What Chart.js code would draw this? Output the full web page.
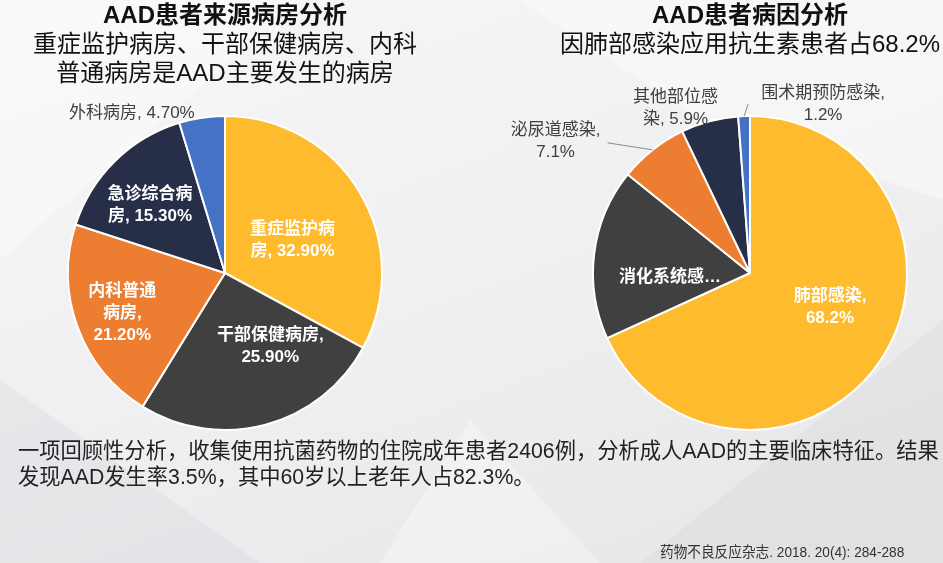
<!DOCTYPE html>
<html>
<head>
<meta charset="utf-8">
<script src="https://cdn.jsdelivr.net/npm/chart.js@4"></script>
<style>
  html, body { margin: 0; padding: 0; }
  body {
    width: 943px; height: 563px; overflow: hidden; position: relative;
    background: linear-gradient(160deg, #f7f7f8 0%, #efeff1 55%, #e6e6e9 100%);
    font-family: "Liberation Sans", "Noto Sans CJK SC", sans-serif;
  }
  .box { position: absolute; }
  #bg { left: 0; top: 0; }
  .title { text-align: center; color: #111; font-size: 24px; line-height: 29px; }
  .title b { font-weight: bold; }
  #leftTitle { left: 0; width: 450px; top: 0; }
  #rightTitle { left: 555px; width: 390px; top: 0; }
  #note { left: 18px; top: 438px; font-size: 22px; line-height: 26px; color: #222;
          white-space: nowrap; transform: scaleX(0.967); transform-origin: left top; }
  #cite { left: 660px; top: 540px; font-size: 15px; color: #333; white-space: nowrap;
          transform: scaleX(0.91); transform-origin: left top; }
  #leftWrap { left: 0; top: 0; width: 450px; height: 546px; }
  #rightWrap { left: 500px; top: 0; width: 500px; height: 546px; }
</style>
</head>
<body>
<svg class="box" id="bg" width="943" height="563">
  <polygon points="0,0 300,0 0,260" fill="#ffffff" opacity="0.35"/>
  <polygon points="520,0 943,0 943,200 700,120" fill="#ffffff" opacity="0.4"/>
  <polygon points="0,563 0,380 260,563" fill="#d8d8dc" opacity="0.35"/>
  <polygon points="943,563 943,320 640,563" fill="#d6d6da" opacity="0.35"/>
  <polygon points="380,563 470,420 600,563" fill="#ffffff" opacity="0.3"/>
</svg>
<div class="box" id="leftWrap"><canvas id="leftChart"></canvas></div>
<div class="box" id="rightWrap"><canvas id="rightChart"></canvas></div>

<div class="box title" id="leftTitle"><b>AAD患者来源病房分析</b><br>重症监护病房、干部保健病房、内科<br>普通病房是AAD主要发生的病房</div>
<div class="box title" id="rightTitle"><b>AAD患者病因分析</b><br>因肺部感染应用抗生素患者占68.2%</div>
<div class="box" id="note">一项回顾性分析，收集使用抗菌药物的住院成年患者2406例，分析成人AAD的主要临床特征。结果<br>发现AAD发生率3.5%，其中60岁以上老年人占82.3%。</div>
<div class="box" id="cite">药物不良反应杂志. 2018. 20(4): 284-288</div>

<script>
// Ward distribution (left pie)
const wardLabels = ['重症监护病房', '干部保健病房', '内科普通病房', '急诊综合病房', '外科病房'];
const wardValues = [32.9, 25.9, 21.2, 15.3, 4.7];
const wardText = [
    ['重症监护病', '房, 32.90%'],
    ['干部保健病房,', '25.90%'],
    ['内科普通', '病房,', '21.20%'],
    ['急诊综合病', '房, 15.30%'],
    ['外科病房, 4.70%']
];

// Cause distribution (right pie)
const causeLabels = ['肺部感染', '消化系统感染', '泌尿道感染', '其他部位感染', '围术期预防感染'];
const causeValues = [68.2, 17.6, 7.1, 5.9, 1.2];
const causeText = [
    ['肺部感染,', '68.2%'],
    ['消化系统感…'],
    ['泌尿道感染,', '7.1%'],
    ['其他部位感', '染, 5.9%'],
    ['围术期预防感染,', '1.2%']
];

const sliceColors = ['#FDBB2D', '#404040', '#ED7D31', '#262E48', '#4472C4'];

// label placement: f = fraction of radius along mid angle, dx/dy = nudge, out = outside label
const wardPlace = [
    { f: 0.5, dx: 0, dy: 7 },
    { f: 0.5, dx: 25, dy: -3 },
    { f: 0.5, dx: -29, dy: 13 },
    { f: 0.5, dx: -20, dy: -12 },
    { f: 1, dx: -70, dy: -4, out: true }
];
const causePlace = [
    { f: 0.5, dx: 14, dy: -8 },
    { f: 0.5, dx: -2, dy: 14 },
    { f: 1, dx: -97, dy: -9, out: true, line: [-45, -7] },
    { f: 1, dx: -34, dy: -13, out: true },
    { f: 1, dx: 79, dy: -12, out: true, line: [4, -12] }
];

const sliceLabels = {
    id: 'sliceLabels',
    afterDatasetsDraw(chart, args, opts) {
        const ctx = chart.ctx;
        const arcs = chart.getDatasetMeta(0).data;
        ctx.save();
        arcs.forEach((arc, i) => {
            const p = opts.place[i];
            const mid = (arc.startAngle + arc.endAngle) / 2;
            const r = arc.outerRadius;
            const ex = arc.x + Math.cos(mid) * r;
            const ey = arc.y + Math.sin(mid) * r;
            if (p.line) {
                ctx.strokeStyle = '#8c8c8c';
                ctx.lineWidth = 1;
                ctx.beginPath();
                ctx.moveTo(ex, ey);
                ctx.lineTo(ex + p.line[0], ey + p.line[1]);
                ctx.stroke();
            }
            const x = arc.x + Math.cos(mid) * r * p.f + p.dx;
            const y = arc.y + Math.sin(mid) * r * p.f + p.dy;
            const lines = opts.text[i];
            ctx.font = (p.out ? '' : 'bold ') + '17px "Liberation Sans", "Noto Sans CJK SC", sans-serif';
            ctx.fillStyle = p.out ? '#404040' : '#ffffff';
            ctx.textAlign = 'center';
            ctx.textBaseline = 'middle';
            const lh = 22;
            const top = y - (lines.length - 1) * lh / 2;
            lines.forEach((t, k) => ctx.fillText(t, x, top + k * lh));
        });
        ctx.restore();
    }
};

function makePie(id, labels, values, text, place) {
    new Chart(document.getElementById(id).getContext('2d'), {
        type: 'pie',
        data: {
            labels: labels,
            datasets: [{
                data: values,
                backgroundColor: sliceColors,
                borderColor: '#ffffff',
                borderWidth: 2
            }]
        },
        options: {
            responsive: true,
            maintainAspectRatio: false,
            animation: false,
            radius: 157,
            layout: { padding: 0 },
            plugins: {
                legend: { display: false },
                tooltip: { enabled: false },
                sliceLabels: { text: text, place: place }
            }
        },
        plugins: [sliceLabels]
    });
}

makePie('leftChart', wardLabels, wardValues, wardText, wardPlace);
makePie('rightChart', causeLabels, causeValues, causeText, causePlace);
</script>
</body>
</html>
